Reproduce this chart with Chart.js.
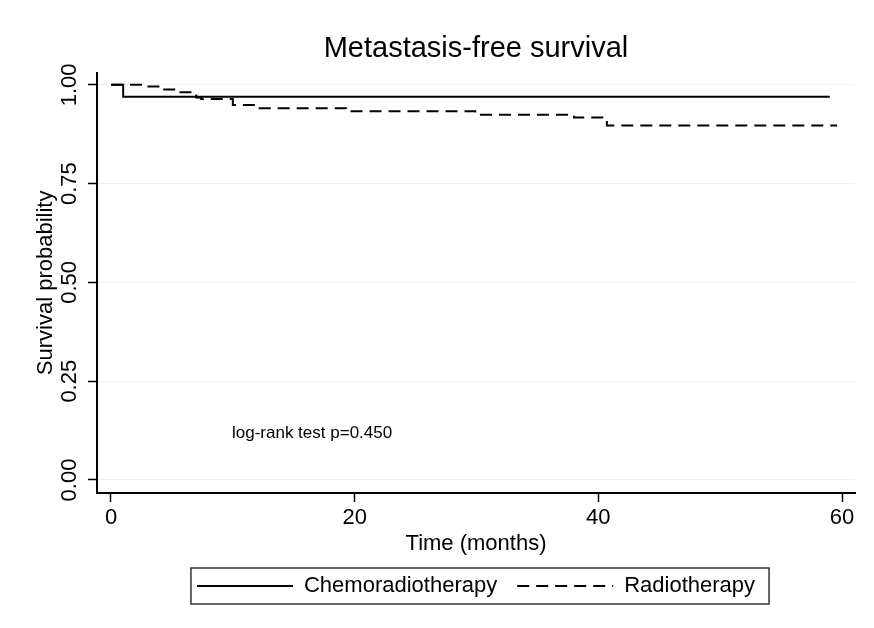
<!DOCTYPE html>
<html lang="en">
<head>
  <meta charset="UTF-8" />
  <title>Metastasis-free survival</title>
  <script src="https://cdn.jsdelivr.net/npm/chart.js"></script>
  <style>
    body { margin: 0; background: #fff; }
    #wrap { width: 874px; height: 628px; }
  </style>
</head>
<body>
  <div id="wrap"><canvas id="kmChart" width="874" height="628"></canvas></div>

  <script>
    // Kaplan-Meier estimates (months, survival probability)
    const chemoTime = [0, 1, 59];
    const chemoSurv = [1.0, 0.970, 0.970];
    const radioTime = [0, 2.8, 4.2, 5.4, 7.0, 7.4, 10.0, 12.0, 19.3, 29.9, 38.0, 40.7, 59.6];
    const radioSurv = [1.0, 0.996, 0.988, 0.981, 0.968, 0.964, 0.949, 0.941, 0.933, 0.924, 0.917, 0.897, 0.897];

    const seriesNames = ["Chemoradiotherapy", "Radiotherapy"];
    const xTicks = [0, 20, 40, 60];
    const yTicks = [0, 0.25, 0.5, 0.75, 1];

    const noteText = "log-rank test p=0.450";
    const notePos = { x: 9.93, y: 0.119 };

    const FONT = "'Liberation Sans', Arial, sans-serif";
    Chart.defaults.font.family = FONT;
    Chart.defaults.color = "#000";

    const toPoints = (t, s) => t.map((v, i) => ({ x: v, y: s[i] }));

    // note text + frame around the legend
    const extras = {
      id: "extras",
      afterDraw(chart) {
        const ctx = chart.ctx;
        const { x, y } = chart.scales;
        ctx.save();
        ctx.fillStyle = "#000";
        ctx.font = "17px " + FONT;
        ctx.textBaseline = "middle";
        ctx.textAlign = "left";
        ctx.fillText(noteText, x.getPixelForValue(notePos.x), y.getPixelForValue(notePos.y));

        const boxes = chart.legend.legendHitBoxes;
        if (boxes && boxes.length) {
          const l = Math.min(...boxes.map(b => b.left)) - 6;
          const r = Math.max(...boxes.map(b => b.left + b.width)) + 14;
          const t = Math.min(...boxes.map(b => b.top)) - 7;
          const b = Math.max(...boxes.map(b => b.top + b.height)) + 7;
          ctx.strokeStyle = "#333";
          ctx.lineWidth = 1.5;
          ctx.strokeRect(l, t, r - l, b - t);
        }
        ctx.restore();
      }
    };

    new Chart(document.getElementById("kmChart"), {
      type: "line",
      data: {
        datasets: [
          {
            label: seriesNames[0],
            data: toPoints(chemoTime, chemoSurv),
            borderColor: "#000",
            backgroundColor: "rgba(0,0,0,0)",
            borderWidth: 2,
            stepped: true,
            pointRadius: 0,
            fill: false
          },
          {
            label: seriesNames[1],
            data: toPoints(radioTime, radioSurv),
            borderColor: "#000",
            backgroundColor: "rgba(0,0,0,0)",
            borderWidth: 2,
            borderDash: [12, 7],
            stepped: true,
            pointRadius: 0,
            fill: false
          }
        ]
      },
      options: {
        responsive: false,
        animation: false,
        layout: { padding: { left: 0, right: 19, top: 0, bottom: 21 } },
        plugins: {
          title: {
            display: true,
            text: "Metastasis-free survival",
            fullSize: false,
            font: { size: 29, weight: "normal" },
            color: "#000",
            padding: { top: 32, bottom: 6 }
          },
          legend: {
            position: "bottom",
            fullSize: false,
            labels: {
              usePointStyle: true,
              pointStyle: "line",
              pointStyleWidth: 96,
              padding: 20,
              font: { size: 22 },
              color: "#000",
              generateLabels: (chart) => {
                const items = Chart.defaults.plugins.legend.labels.generateLabels(chart);
                items.forEach((it, i) => {
                  it.lineDash = chart.data.datasets[i].borderDash || [];
                  it.lineWidth = 2;
                  it.strokeStyle = "#000";
                });
                return items;
              }
            }
          },
          tooltip: { enabled: false }
        },
        scales: {
          x: {
            type: "linear",
            min: -1.149,
            max: 61.067,
            afterBuildTicks: (s) => { s.ticks = xTicks.map(v => ({ value: v })); },
            afterFit: (s) => { s.height = 62; },
            grid: { drawOnChartArea: false, drawTicks: true, tickLength: 9, tickColor: "#000", tickWidth: 1.5 },
            border: { display: true, color: "#000", width: 2 },
            ticks: { font: { size: 22 }, color: "#000", padding: 3, maxRotation: 0 },
            title: { display: true, text: "Time (months)", font: { size: 22 }, color: "#000", padding: { top: 0, bottom: -2 } }
          },
          y: {
            type: "linear",
            min: -0.0329,
            max: 1.0304,
            afterBuildTicks: (s) => { s.ticks = yTicks.map(v => ({ value: v })); },
            afterFit: (s) => { s.width = 97; },
            grid: { color: "#f0f0f0", lineWidth: 1, drawTicks: true, tickLength: 9, tickColor: "#000", tickWidth: 1.5 },
            border: { display: true, color: "#000", width: 2 },
            ticks: {
              font: { size: 22 },
              color: "#000",
              minRotation: 90,
              maxRotation: 90,
              crossAlign: "center",
              padding: -3,
              callback: (v) => v.toFixed(2)
            },
            title: { display: true, text: "Survival probability", font: { size: 22 }, color: "#000", padding: { top: 33, bottom: 0 } }
          }
        }
      },
      plugins: [extras]
    });
  </script>
</body>
</html>
